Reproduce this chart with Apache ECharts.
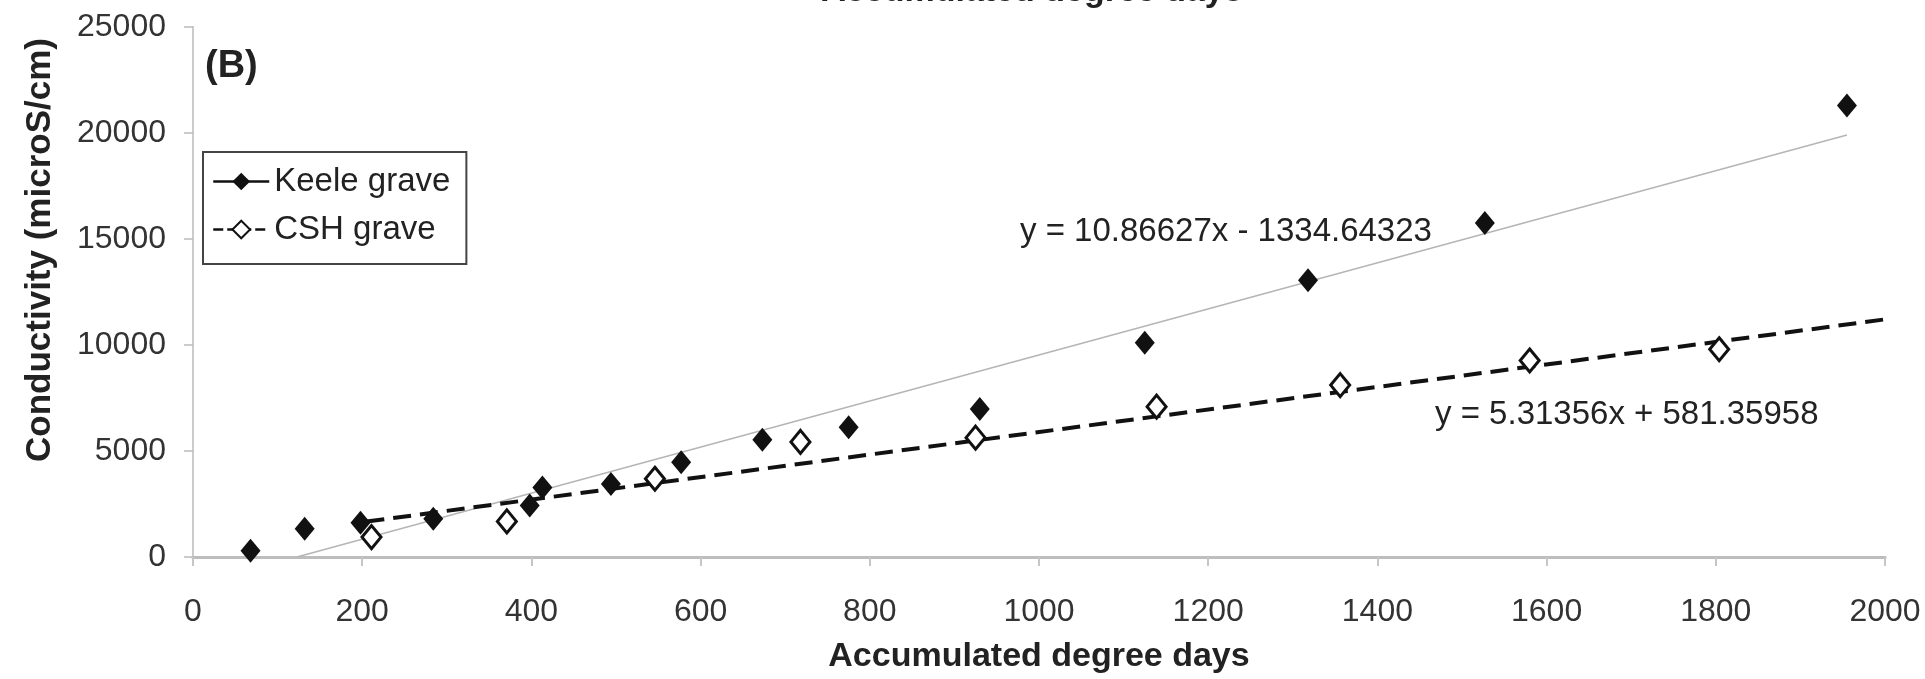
<!DOCTYPE html>
<html><head><meta charset="utf-8">
<script src="https://cdn.jsdelivr.net/npm/echarts@6/dist/echarts.min.js"></script>
<style>html,body{margin:0;padding:0;background:#fff}#c{width:1925px;height:679px}</style>
</head><body><div id="c"></div>
<script>
// ---- data ----
const keeleX = [68, 132, 198, 284, 398, 413, 494, 577, 673, 775, 930, 1125, 1318, 1527, 1955];
const keeleY = [290, 1330, 1610, 1800, 2430, 3280, 3440, 4470, 5530, 6120, 6980, 10110, 13050, 15750, 21300];
const cshX = [211, 371, 546, 718, 925, 1139, 1356, 1580, 1804];
const cshY = [940, 1680, 3690, 5430, 5630, 7090, 8110, 9270, 9800];
// trendlines as printed on the chart: [slope, intercept] and drawn x-range
const keeleTrendCoef = [10.86627, -1334.64323];
const keeleTrendX = [122.83, 1955];
const cshTrendCoef = [5.31356, 581.35958];
const cshTrendX = [205, 2000];
const seriesNames = ['Keele grave', 'CSH grave'];
const equationLabels = ['y = 10.86627x - 1334.64323', 'y = 5.31356x + 581.35958'];
const xTitle = 'Accumulated degree days';
const yTitle = 'Conductivity (microS/cm)';
const panelLabel = '(B)';

const FONT = "'Liberation Sans', Arial, sans-serif";
const keeleData = keeleX.map((x, i) => [x, keeleY[i]]);
const cshData = cshX.map((x, i) => [x, cshY[i]]);
const keeleLine = keeleTrendX.map(x => [x, keeleTrendCoef[0] * x + keeleTrendCoef[1]]);
const cshLine = cshTrendX.map(x => [x, cshTrendCoef[0] * x + cshTrendCoef[1]]);
const plain = v => String(v);

const chart = echarts.init(document.getElementById('c'), null, {renderer: 'canvas'});
chart.setOption({
  animation: false,
  backgroundColor: '#fff',
  grid: {left: 193, right: 40, top: 27, bottom: 121},
  xAxis: [{
    type: 'value', min: 0, max: 2000, interval: 200,
    axisLine: {show: true, lineStyle: {color: '#c6c6c6', width: 3}},
    axisTick: {show: true, length: 9, lineStyle: {color: '#c6c6c6', width: 2}},
    axisLabel: {margin: 39, fontSize: 32, color: '#333', fontFamily: FONT, formatter: plain},
    splitLine: {show: false},
    name: xTitle, nameLocation: 'middle', nameGap: 83,
    nameTextStyle: {fontSize: 34, fontWeight: 'bold', color: '#222', fontFamily: FONT}
  }, {
    type: 'value', position: 'top', min: 0, max: 2000, interval: 200,
    axisLine: {show: true, lineStyle: {color: '#bdbdbd', width: 3}},
    axisTick: {show: false}, axisLabel: {show: false}, splitLine: {show: false}
  }],
  yAxis: [{
    type: 'value', min: 0, max: 25000, interval: 5000,
    axisLine: {show: true, lineStyle: {color: '#b8b8b8', width: 1.5}},
    axisTick: {show: true, length: 9, lineStyle: {color: '#bbb', width: 1.5}},
    axisLabel: {margin: 27, fontSize: 32, color: '#333', fontFamily: FONT, formatter: plain},
    splitLine: {show: false}
  }, {
    type: 'value', position: 'right', min: 0, max: 25000, interval: 5000,
    axisLine: {show: true, lineStyle: {color: '#ccc', width: 2}},
    axisTick: {show: false}, axisLabel: {show: false}, splitLine: {show: false}
  }],
  legend: {
    left: 203, top: 152, orient: 'vertical',
    padding: [12, 16, 17, 9], itemGap: 13, itemWidth: 56, itemHeight: 22,
    borderColor: '#444', borderWidth: 2, borderRadius: 0, backgroundColor: '#fff',
    textStyle: {fontSize: 33, color: '#222', fontFamily: FONT, lineHeight: 35},
    data: [
      {name: seriesNames[0], lineStyle: {width: 2.5, color: '#111', opacity: 1, type: 'solid'}},
      {name: seriesNames[1], lineStyle: {width: 2.5, color: '#111', opacity: 1, type: [10, 4]}}
    ]
  },
  series: [{
    name: 'keeleTrend', type: 'line', data: keeleLine, symbol: 'none', silent: true, z: 2,
    lineStyle: {color: '#b5b5b5', width: 1.5}
  }, {
    name: 'cshTrend', type: 'line', data: cshLine, symbol: 'none', silent: true, z: 3,
    lineStyle: {color: '#111', width: 4, type: [18, 9]}
  }, {
    name: seriesNames[0], type: 'line', data: keeleData, symbol: 'diamond', symbolSize: [20, 24],
    showSymbol: true, z: 5,
    lineStyle: {width: 0, opacity: 0},
    itemStyle: {color: '#111', borderWidth: 0}
  }, {
    name: seriesNames[1], type: 'line', data: cshData, symbol: 'diamond', symbolSize: [19, 23],
    showSymbol: true, z: 6,
    lineStyle: {width: 0, opacity: 0},
    itemStyle: {color: '#fff', borderColor: '#111', borderWidth: 3}
  }],
  graphic: [
    {type: 'text', x: 205, y: 67, style: {text: panelLabel, font: 'bold 38px ' + FONT, fill: '#222', verticalAlign: 'middle'}},
    {type: 'text', x: 1020, y: 232, style: {text: equationLabels[0], font: '33px ' + FONT, fill: '#222', verticalAlign: 'middle'}},
    {type: 'text', x: 1435, y: 415, style: {text: equationLabels[1], font: '33px ' + FONT, fill: '#222', verticalAlign: 'middle'}},
    {type: 'text', x: 40, y: 250, rotation: Math.PI / 2, style: {text: yTitle, font: 'bold 35px ' + FONT, fill: '#222', align: 'center', verticalAlign: 'middle'}},
    {type: 'text', x: 1032, y: -8, style: {text: xTitle, font: 'bold 34px ' + FONT, fill: '#222', align: 'center', verticalAlign: 'middle'}}
  ]
});
</script></body></html>
